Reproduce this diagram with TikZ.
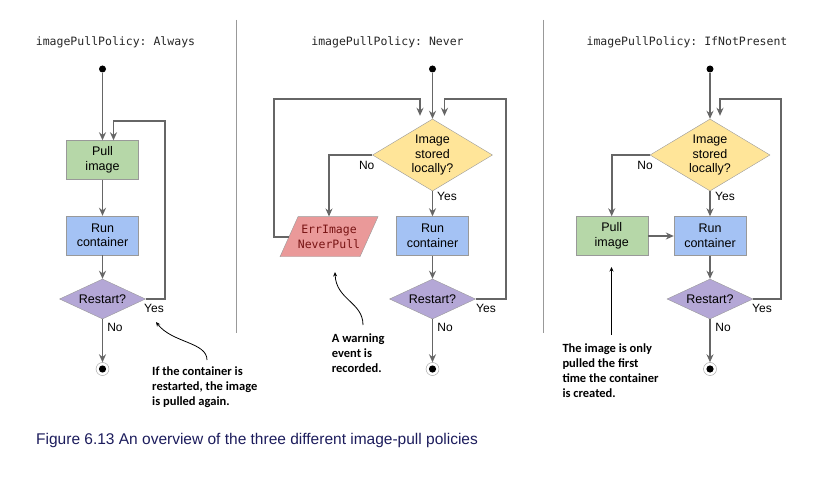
\documentclass[tikz,border=0pt]{standalone}
\usepackage{fontspec}
\setmainfont{Liberation Sans}
\setmonofont{DejaVu Sans Mono}
\newfontfamily\notefont{Carlito}
\usetikzlibrary{shapes.geometric,arrows.meta}
\definecolor{pullgreen}{HTML}{B6D7A8}
\definecolor{runblue}{HTML}{A4C2F4}
\definecolor{askpurple}{HTML}{B4A7D6}
\definecolor{askyellow}{HTML}{FFE599}
\definecolor{errred}{HTML}{EA9999}
\definecolor{edgegray}{HTML}{999999}
\definecolor{flowgray}{HTML}{666666}
\definecolor{captionblue}{HTML}{1C1C5C}
\begin{document}
\begin{tikzpicture}[x=1pt,y=-1pt,
	box/.style={draw=edgegray,minimum width=72,minimum height=39,inner sep=0,align=center,font=\fontsize{12.5}{14.5}\selectfont},
	ask/.style={diamond,draw=edgegray,inner sep=0,aspect=1.67,align=center,font=\fontsize{12.5}{14.5}\selectfont},
	start/.style={circle,fill=black,minimum size=7,inner sep=0},
	stop/.style={circle,draw=edgegray,fill=white,minimum size=13,inner sep=0,path picture={\fill[black] (path picture bounding box.center) circle (3.6pt);}},
	flow/.style={draw=flowgray,line width=1.8,-{Stealth[length=8pt,width=7pt]}},
	note/.style={draw=black,line width=0.8,-{Stealth[length=4.5pt,width=4pt]}},
	lbl/.style={font=\fontsize{12}{14}\selectfont},
	title/.style={font=\ttfamily\fontsize{11.5}{14}\selectfont,text=black!85},
	remark/.style={anchor=north west,inner sep=0,align=left,font=\notefont\bfseries\fontsize{12.5}{15}\selectfont}]
	\useasboundingbox (0,0) rectangle (821,478);

	\foreach \sx in {236,543.3}
	\draw[edgegray,line width=0.8] (\sx,20) -- (\sx,333);

	\node[title] (t1) at (115.5,42) {imagePullPolicy: Always};
	\node[title] (t2) at (387.5,42) {imagePullPolicy: Never};
	\node[title] (t3) at (687,42) {imagePullPolicy: IfNotPresent};

	\node[start] (s1) at (102.5,69) {};
	\node[box,fill=pullgreen] (p1) at (102.5,160) {Pull\\image};
	\node[box,fill=runblue] (r1) at (102.5,235.5) {Run\\container};
	\node[ask,fill=askpurple,minimum width=86,minimum height=40,aspect=2.1] (d1) at (102.5,299) {Restart?};
	\node[stop] (e1) at (102.5,369) {};
	\coordinate (k1) at (165,121);
	\draw[flow] (s1) -- (p1);
	\draw[flow] (p1) -- (r1);
	\draw[flow] (r1) -- (d1);
	\draw[flow] (d1) -- (e1);
	\draw[flow] (d1.east) -| (k1) -| ([xshift=11]p1.north);
	\node[lbl] at (154,308) {Yes};
	\node[lbl] at (115,327) {No};

	\node[start] (s2) at (432.5,69) {};
	\node[ask,fill=askyellow,minimum width=120,minimum height=72] (q2) at (432.5,155) {Image\\stored\\locally?};
	\draw[edgegray,fill=errred] (280,256.7) -- (298,216.7) -- (378,216.7) -- (360,256.7) -- cycle;
	\node[minimum width=80,minimum height=40,inner sep=0,align=center,font=\ttfamily\fontsize{11.5}{14.5}\selectfont,text={rgb,255:red,120;green,20;blue,20}] (err) at (329,236.7) {ErrImage\\NeverPull};
	\node[box,fill=runblue] (r2) at (432.5,236) {Run\\container};
	\node[ask,fill=askpurple,minimum width=86,minimum height=40,aspect=2.1] (d2) at (432.5,299) {Restart?};
	\node[stop] (e2) at (432.5,369) {};
	\coordinate (k2) at (274.3,99);
	\coordinate (k3) at (505.7,99);
	\draw[flow] (s2) -- (q2);
	\draw[flow] (q2.west) -| (err.north);
	\draw[flow] (err.west) -| (k2) -| ([xshift=-12.5,yshift=3]q2.north);
	\draw[flow] (q2) -- (r2);
	\draw[flow] (r2) -- (d2);
	\draw[flow] (d2) -- (e2);
	\draw[flow] (d2.east) -| (k3) -| ([xshift=12,yshift=3]q2.north);
	\node[lbl] at (366.7,165) {No};
	\node[lbl] at (447,196) {Yes};
	\node[lbl] at (486,308) {Yes};
	\node[lbl] at (445,327) {No};

	\node[start] (s3) at (710,69) {};
	\node[ask,fill=askyellow,minimum width=120,minimum height=72] (q3) at (710,155) {Image\\stored\\locally?};
	\node[box,fill=pullgreen] (p3) at (611.7,236) {Pull\\image};
	\node[box,fill=runblue] (r3) at (710,236) {Run\\container};
	\node[ask,fill=askpurple,minimum width=86,minimum height=40,aspect=2.1] (d3) at (710,299) {Restart?};
	\node[stop] (e3) at (710,369) {};
	\coordinate (k4) at (780.7,99);
	\draw[flow] (s3) -- (q3);
	\draw[flow] (q3.west) -| (p3.north);
	\draw[flow] (p3) -- (r3);
	\draw[flow] (q3) -- (r3);
	\draw[flow] (r3) -- (d3);
	\draw[flow] (d3) -- (e3);
	\draw[flow] (d3.east) -| (k4) -| ([xshift=10,yshift=3]q3.north);
	\node[lbl] at (645,165) {No};
	\node[lbl] at (725,196) {Yes};
	\node[lbl] at (762,308) {Yes};
	\node[lbl] at (723,327) {No};

	\node[remark] (n1) at (152,367) {If the container is\\restarted, the image\\is pulled again.};
	\node[remark] (n2) at (331.7,334) {A warning\\event is\\recorded.};
	\node[remark] (n3) at (562.3,344) {The image is only\\pulled the first\\time the container\\is created.};
	\coordinate (a1) at (207,360);
	\coordinate (b1) at (156,322);
	\coordinate (a2) at (363,325);
	\coordinate (b2) at (335,272);
	\coordinate (a3) at (611.5,335);
	\coordinate (b3) at (611.5,267);
	\draw[note] (a1) .. controls (207,342) and (172,343) .. (b1);
	\draw[note] (a2) .. controls (363,302) and (336,300) .. (b2);
	\draw[note] (a3) -- (b3);

	\node[anchor=west,inner sep=0,text=captionblue,font=\fontsize{15.5}{18}\selectfont] (cap) at (36,440) {Figure 6.13 An overview of the three different image-pull policies};
\end{tikzpicture}
\end{document}
